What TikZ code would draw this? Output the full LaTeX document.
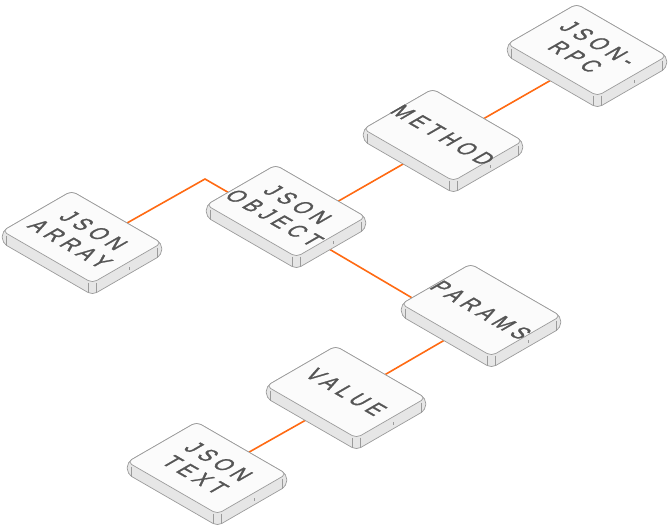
\documentclass[tikz,border=0pt]{standalone}
\usepackage{fontspec}
\setmainfont{Liberation Sans}
\pgfdeclarelayer{background}
\pgfsetlayers{background,main}
\definecolor{wire}{HTML}{FF6A13}
\definecolor{tileedge}{HTML}{9B9B9B}
\definecolor{tileside}{HTML}{E6E6E6}
\definecolor{tiletop}{HTML}{FBFBFB}
\definecolor{tiletext}{HTML}{555555}
\begin{document}
\begin{tikzpicture}[x=1pt, y=-1pt,
  wire/.style={draw=wire, line width=1.6pt},
  tileface/.style={fill=tiletop, draw=tileedge, line width=0.7pt, rounded corners=5pt},
  tilebody/.style={fill=tileside, draw=tileedge, line width=0.7pt, rounded corners=5pt},
  tilerim/.style={draw=tileedge, line width=0.5pt},
  isotext/.style={cm={0.693,-0.4,0.866,0.5,(0,0)}, transform shape, align=center,
    text=tiletext, inner sep=0pt,
    font=\fontsize{24}{27}\selectfont\addfontfeature{LetterSpace=26,FakeBold=1.2}}]

\useasboundingbox (0,0) rectangle (669,525);

\foreach \name/\cx/\cy/\txt in {rpc/587/50/{JSON-\\RPC}, method/443/135/{METHOD},
  array/82/237/{JSON\\ARRAY}, object/286/211/{JSON\\OBJECT},
  params/481/310/{PARAMS}, value/346/392/{VALUE}, jtext/207/468/{JSON\\TEXT}}{
\coordinate (\name) at (\cx,\cy);
\begin{scope}[shift={(\name)}, x={(0.866pt,-0.5pt)}, y={(-0.866pt,-0.5pt)}, z={(0pt,-1pt)}]
\draw [tilebody] (-52,-40,0) -- (52,-40,0) -- (52,-40,12) -- (52,40,12) -- (-52,40,12) -- (-52,40,0) -- cycle;
\draw [tilerim] (-47,40,2) -- (-47,40,12);
\draw [tilerim] (47,40,2) -- (47,40,12);
\draw [tilerim] (52,35,2) -- (52,35,12);
\draw [tilerim] (52,-35,2) -- (52,-35,12);
\draw [tilerim] (52,-2,5) -- (52,-2,8);
\draw [tileface] (-52,-40,0) -- (52,-40,0) -- (52,40,0) -- (-52,40,0) -- cycle;
\node [isotext] (\name-label) at (0,0,0) {\txt};
\end{scope}
}

\begin{pgfonlayer}{background}
\coordinate (bend) at (205,179);
\draw [wire] ([shift={(11.4,5)}]array) -- (bend) -- ([shift={(-20.4,3)}]object);
\draw [wire] ([shift={(19.4,9)}]object) -- ([shift={(-1.4,7)}]method);
\draw [wire] ([shift={(14.7,-1.5)}]method) -- ([shift={(-1.7,10.5)}]rpc);
\draw [wire] ([shift={(11.7,19.5)}]object) -- ([shift={(-28,12)}]params);
\draw [wire] ([shift={(-7,13)}]params) -- ([shift={(7.4,1)}]value);
\draw [wire] ([shift={(-10,11)}]value) -- ([shift={(10.4,2)}]jtext);
\end{pgfonlayer}
\end{tikzpicture}
\end{document}
